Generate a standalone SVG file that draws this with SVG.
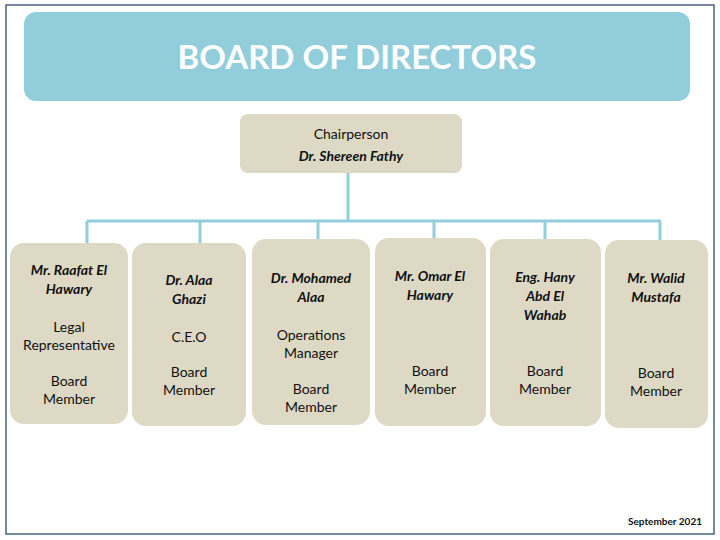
<svg xmlns="http://www.w3.org/2000/svg" width="720" height="540" viewBox="0 0 720 540">
<style>
.b{fill:#ddd9c4}
.t{font-family:Lato,"Open Sans",sans-serif;font-size:14px;fill:#111;text-anchor:middle}
.n{font-weight:bold;font-style:italic}
.c{stroke:#92cddc;stroke-width:3;fill:none}
</style>
<rect x="0" y="0" width="720" height="540" fill="#fff"/>
<rect x="6" y="5" width="708" height="529" fill="none" stroke="#4a6280" stroke-width="1.5"/>
<g id="header"><rect x="24" y="12" width="666" height="89" rx="12" fill="#92cddc"/>
<text x="357" y="69" font-family="Lato,'Open Sans',sans-serif" font-size="33" font-weight="bold" fill="#fff" text-anchor="middle">BOARD OF DIRECTORS</text></g>
<g id="connectors" class="c">
<path d="M348 173V221M87 221H661M87 221V243M200 221V243M318 221V239M434 221V238M545 221V239M660 221V240"/>
</g>
<g id="chair"><rect class="b" x="240" y="114" width="222" height="59" rx="8"/>
<text class="t" x="351" y="139" font-size="15">Chairperson</text><text class="t n" x="351" y="161" font-size="15">Dr. Shereen Fathy</text></g>
<g id="m1"><rect class="b" x="10" y="243" width="118" height="181" rx="14"/>
<text class="t n" x="69" y="275">Mr. Raafat El</text><text class="t n" x="69" y="294">Hawary</text>
<text class="t" x="69" y="332">Legal</text><text class="t" x="69" y="350">Representative</text>
<text class="t" x="69" y="386">Board</text><text class="t" x="69" y="404">Member</text></g>
<g id="m2"><rect class="b" x="132" y="243" width="114" height="183" rx="14"/>
<text class="t n" x="189" y="285">Dr. Alaa</text><text class="t n" x="189" y="304">Ghazi</text>
<text class="t" x="189" y="342">C.E.O</text>
<text class="t" x="189" y="377">Board</text><text class="t" x="189" y="395">Member</text></g>
<g id="m3"><rect class="b" x="252" y="239" width="118" height="186" rx="14"/>
<text class="t n" x="311" y="283">Dr. Mohamed</text><text class="t n" x="311" y="302">Alaa</text>
<text class="t" x="311" y="340">Operations</text><text class="t" x="311" y="358">Manager</text>
<text class="t" x="311" y="394">Board</text><text class="t" x="311" y="412">Member</text></g>
<g id="m4"><rect class="b" x="375" y="238" width="111" height="188" rx="14"/>
<text class="t n" x="430" y="281">Mr. Omar El</text><text class="t n" x="430" y="300">Hawary</text>
<text class="t" x="430" y="376">Board</text><text class="t" x="430" y="394">Member</text></g>
<g id="m5"><rect class="b" x="490" y="239" width="111" height="187" rx="14"/>
<text class="t n" x="545" y="282">Eng. Hany</text><text class="t n" x="545" y="301">Abd El</text><text class="t n" x="545" y="320">Wahab</text>
<text class="t" x="545" y="376">Board</text><text class="t" x="545" y="394">Member</text></g>
<g id="m6"><rect class="b" x="605" y="240" width="103" height="188" rx="14"/>
<text class="t n" x="656" y="283">Mr. Walid</text><text class="t n" x="656" y="302">Mustafa</text>
<text class="t" x="656" y="378">Board</text><text class="t" x="656" y="396">Member</text></g>
<text x="702" y="525" font-family="Lato,'Open Sans',sans-serif" font-size="10" font-weight="bold" text-anchor="end" fill="#111">September 2021</text>
</svg>
